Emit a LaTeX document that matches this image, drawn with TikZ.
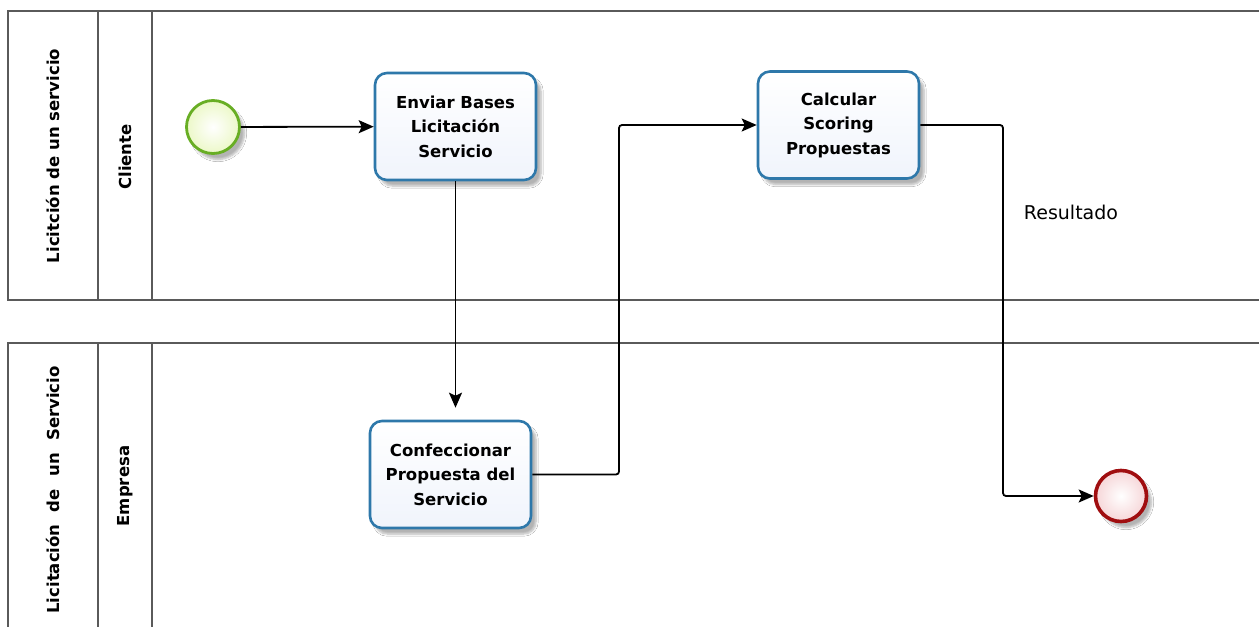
\documentclass[tikz,border=0pt]{standalone}
\usepackage{fontspec}
\setmainfont{DejaVu Sans}
\usetikzlibrary{arrows.meta,shadows,shadows.blur,backgrounds}
\definecolor{taskline}{RGB}{46,120,170}
\definecolor{taskfill}{RGB}{240,244,252}
\definecolor{startline}{RGB}{104,174,36}
\definecolor{startfill}{RGB}{236,248,200}
\definecolor{endline}{RGB}{160,14,16}
\definecolor{endfill}{RGB}{246,214,216}
\definecolor{poolline}{RGB}{90,90,90}
\tikzset{
  pool/.style={draw=poolline, line width=1.4pt},
  hdr/.style={rotate=90, font=\bfseries\fontsize{16.5}{19}\selectfont},
  task/.style={draw=taskline, line width=2.6pt, rounded corners=12pt,
    top color=white, bottom color=taskfill, minimum width=161pt, minimum height=107pt,
    align=center, font=\bfseries\fontsize{16.5}{24.5}\selectfont,
    blur shadow={shadow xshift=5pt, shadow yshift=-6pt, shadow opacity=30, shadow blur steps=6}},
  startev/.style={circle, draw=startline, line width=2.8pt, minimum size=53pt,
    inner color=white, outer color=startfill,
    blur shadow={shadow xshift=5pt, shadow yshift=-6pt, shadow opacity=30, shadow blur steps=6}},
  endev/.style={circle, draw=endline, line width=3.6pt, minimum size=51pt,
    inner color=white, outer color=endfill,
    blur shadow={shadow xshift=5pt, shadow yshift=-6pt, shadow opacity=30, shadow blur steps=6}},
  flow/.style={draw=black, line width=1.8pt, rounded corners=3pt,
    -{Stealth[length=15pt, width=13pt, inset=3pt]}},
  ghost/.style={draw=black!9, line width=1.5pt, rounded corners=3pt},
}
\begin{document}
\begin{tikzpicture}[x=1pt, y=-1pt]
  \useasboundingbox (0,0) rectangle (1259,627);
  \fill[white] (0,0) rectangle (1259,627);

  % upper pool
  \draw[pool] (1259,11) -- (8,11) -- (8,300) -- (1259,300);
  \draw[pool] (98,11) -- (98,300);
  \draw[pool] (152,11) -- (152,300);
  \node[hdr] (pool1) at (53,156) {Licitción de un servicio};
  \node[hdr] (lane1) at (125,157) {Cliente};

  % lower pool
  \draw[pool] (1259,343) -- (8,343) -- (8,627);
  \draw[pool] (98,343) -- (98,627);
  \draw[pool] (152,343) -- (152,627);
  \node[hdr] (pool2) at (53,490) {Licitación\hspace{0.75em}de\hspace{0.75em}un\hspace{0.75em}Servicio};
  \node[hdr] (lane2) at (125,486) {Empresa};

  % events and tasks
  \node[startev] (start) at (213,127) {};
  \node[task] (t1) at (455.5,126.5) {Enviar Bases\\Licitación\\Servicio};
  \node[task] (t2) at (450.5,474.5) {Confeccionar\\Propuesta del\\Servicio};
  \node[task] (t3) at (838.5,125) {Calcular\\Scoring\\Propuestas};
  \node[endev] (end) at (1121,496) {};

  \coordinate (j1) at (619,0);
  \coordinate (j2) at (1003,0);

  % faint drop shadows of the sequence flows
  \begin{scope}[on background layer, xshift=16pt, yshift=-16pt]
    \draw[ghost] (start.east) -- (t1.west);
    \draw[ghost, -{Stealth[length=10pt, width=10pt, inset=2pt]}, shorten >=10pt] (t1.south) -- (t1.south |- t2.north);
    \draw[ghost] (t2.east) -| (j1 |- t3.west) -- (t3.west);
    \draw[ghost] (t3.east) -| (j2 |- end.west) -- (end.west);
  \end{scope}

  % sequence flows
  \draw[flow] (start) -- (t1);
  \draw[flow, shorten >=12pt] (t1.south) -- (t1.south |- t2.north);
  \draw[flow] (t2.east) -| (j1 |- t3.west) -- (t3.west);
  \draw[flow] (t3.east) -| (j2 |- end.west) -- (end.west);

  \node[font=\fontsize{19}{22}\selectfont] (res) at (1071,212) {Resultado};
\end{tikzpicture}
\end{document}
